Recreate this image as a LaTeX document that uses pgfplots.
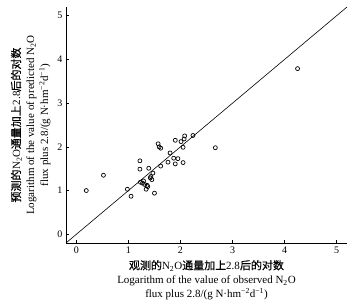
\documentclass[border=0pt]{standalone}
\usepackage{fontspec}
\setmainfont{Liberation Serif}
\newfontfamily\cjk[FakeBold=0.5]{Noto Sans CJK SC}
\usepackage{pgfplots}
\pgfplotsset{compat=1.18}
\begin{document}
\begin{tikzpicture}
\begin{axis}[
  scale only axis, width=281pt, height=236pt,
  xmin=-0.2, xmax=5.2, ymin=-0.2, ymax=5.2,
  axis lines=left, axis line style={-, line width=0.6pt},
  tick align=inside, xtick={0,...,5}, ytick={0,...,5},
  tick style={black, line width=0.6pt}, major tick length=3pt,
  ticklabel style={font=\fontsize{10}{12}\selectfont},
  /pgf/number format/assume math mode=true,
  xlabel={{\cjk 观测的}N\textsubscript{2}O{\cjk 通量加上}2.8{\cjk 后的对数}\\Logarithm of the value of observed N\textsubscript{2}O\\flux plus 2.8/(g N·hm\textsuperscript{−2}d\textsuperscript{−1})},
  ylabel={{\cjk 预测的}N\textsubscript{2}O{\cjk 通量加上}2.8{\cjk 后的对数}\\Logarithm of the value of predicted N\textsubscript{2}O\\flux plus 2.8/(g N·hm\textsuperscript{−2}d\textsuperscript{−1})},
  xlabel style={align=center, font=\fontsize{11}{14}\selectfont},
  ylabel style={align=center, font=\fontsize{11}{14}\selectfont},
]
\addplot[black, line width=0.6pt] coordinates {(-0.2,-0.2) (5.2,5.2)};
\addplot[only marks, mark=o, mark size=2pt, mark options={line width=0.7pt, black}] coordinates {
(0.19,1.00) (0.52,1.35) (0.98,1.03) (1.05,0.87) (1.22,1.68) (1.22,1.49)
(1.23,1.19) (1.27,1.17) (1.29,1.22) (1.31,1.14) (1.34,1.03) (1.37,1.09)
(1.39,1.51) (1.42,1.29) (1.45,1.25) (1.47,1.40) (1.50,0.94) (1.57,2.07)
(1.59,2.00) (1.62,1.97) (1.62,1.56) (1.76,1.65) (1.80,1.86) (1.87,1.74)
(1.90,2.15) (1.90,1.61) (1.95,1.73) (2.01,2.12) (2.05,1.99) (2.05,1.64)
(2.07,2.18) (2.08,2.25) (2.24,2.26) (2.67,1.98) (4.25,3.79) (1.36,1.12)
(1.43,1.32)
};
\end{axis}
\path ([shift={(-66pt,-65pt)}]current axis.south west) rectangle ([shift={(12pt,7pt)}]current axis.north east);
\end{tikzpicture}
\end{document}
